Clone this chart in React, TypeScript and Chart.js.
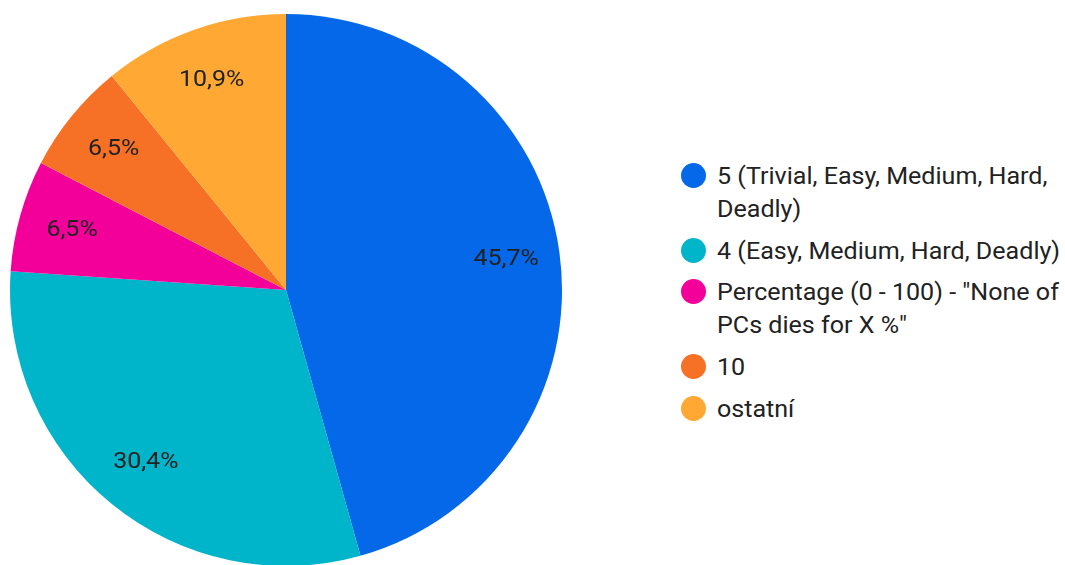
import React, { useEffect, useRef } from "react";
import { Chart, registerables } from "chart.js";

Chart.register(...registerables);

const categories = [
  "5 (Trivial, Easy, Medium, Hard,\nDeadly)",
  "4 (Easy, Medium, Hard, Deadly)",
  "Percentage (0 - 100) - \"None of\nPCs dies for X %\"",
  "10",
  "ostatní",
];
const values = [21, 14, 3, 3, 5];
const colors = ["#0568E9", "#00B4CA", "#F3009A", "#F67026", "#FFA834"];

const FONT = "Roboto, 'Noto Sans', sans-serif";

const labelPlugin = {
  id: "sliceLabels",
  afterDatasetsDraw(chart: any) {
    const ctx = chart.ctx;
    const meta = chart.getDatasetMeta(0);
    const data = chart.data.datasets[0].data as number[];
    const total = data.reduce((a, b) => a + b, 0);
    ctx.save();
    ctx.font = `22.5px ${FONT}`;
    ctx.fillStyle = "#222222";
    ctx.textAlign = "center";
    ctx.textBaseline = "middle";
    meta.data.forEach((arc: any, i: number) => {
      const { x, y, startAngle, endAngle, outerRadius } = arc.getProps(
        ["x", "y", "startAngle", "endAngle", "outerRadius"],
        true
      );
      const mid = (startAngle + endAngle) / 2;
      const r = outerRadius * 0.805;
      const txt = ((data[i] / total) * 100).toFixed(1).replace(".", ",") + "%";
      ctx.save();
      ctx.translate(x + Math.cos(mid) * r, y + Math.sin(mid) * r);
      ctx.scale(1.11, 1);
      ctx.fillText(txt, 0, 0);
      ctx.restore();
    });
    ctx.restore();
  },
};

export default function App() {
  const ref = useRef<HTMLCanvasElement>(null);
  useEffect(() => {
    if (!ref.current) return;
    const chart = new Chart(ref.current, {
      type: "pie",
      data: {
        labels: categories,
        datasets: [
          {
            data: values,
            backgroundColor: colors,
            borderWidth: 0,
          },
        ],
      },
      options: {
        animation: false,
        responsive: false,
        maintainAspectRatio: false,
        layout: { padding: { left: 10, top: 14, right: 12, bottom: 14 } },
        plugins: {
          legend: { display: false },
          tooltip: { enabled: false },
        },
      },
      plugins: [labelPlugin],
    });
    return () => chart.destroy();
  }, []);

  return (
    <div
      style={{
        position: "fixed",
        left: 0,
        top: 0,
        width: 1065,
        height: 565,
        overflow: "hidden",
        background: "#fff",
      }}
    >
      <canvas
        ref={ref}
        width={574}
        height={580}
        style={{ position: "absolute", left: 0, top: 0, width: 574, height: 580 }}
      />
      <div
        style={{
          position: "absolute",
          left: 681,
          top: 160,
          fontFamily: FONT,
          fontSize: 23,
          color: "#222222",
        }}
      >
        {categories.map((c, i) => (
          <div
            key={i}
            style={{ display: "flex", alignItems: "flex-start", marginBottom: 8.7 }}
          >
            <span
              style={{
                width: 25,
                height: 25,
                borderRadius: "50%",
                background: colors[i],
                marginTop: 3,
                marginRight: 11,
                flex: "none",
              }}
            />
            <span
              style={{
                display: "inline-block",
                lineHeight: "33px",
                whiteSpace: "pre",
                transform: "scaleX(1.09)",
                transformOrigin: "left center",
              }}
            >
              {c}
            </span>
          </div>
        ))}
      </div>
    </div>
  );
}
